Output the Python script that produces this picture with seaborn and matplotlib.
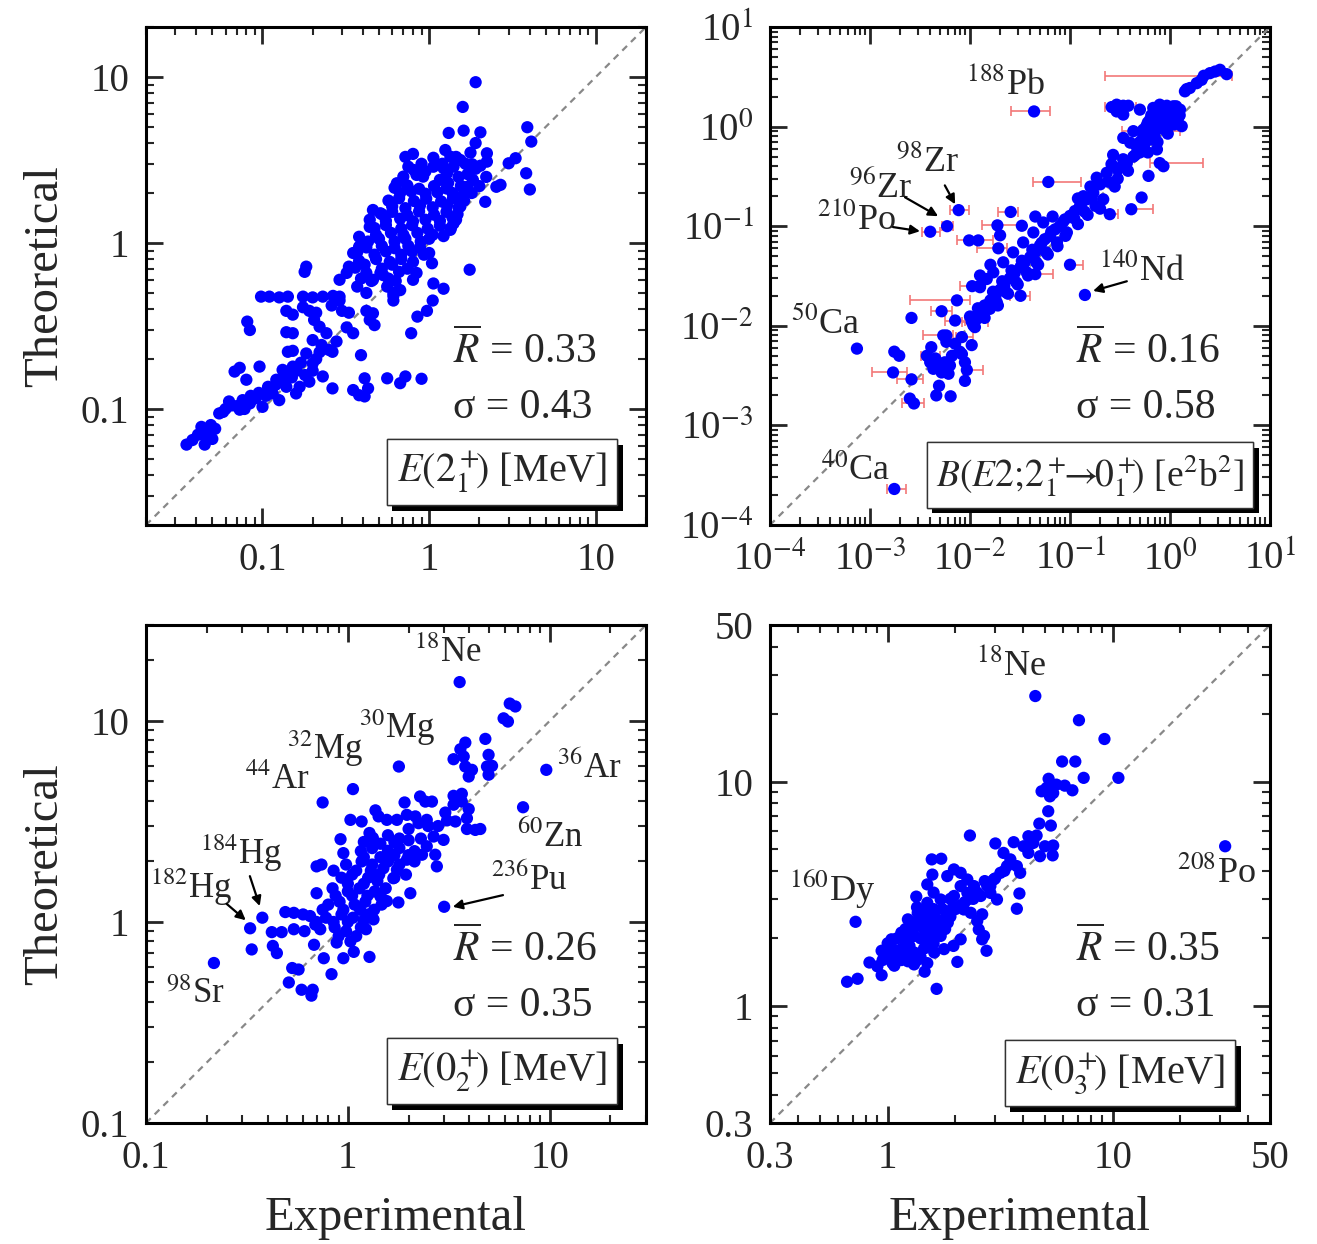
import numpy as np
import pandas as pd
import matplotlib
matplotlib.use("Agg")
import matplotlib.pyplot as plt
import matplotlib.patheffects as pe
from matplotlib.ticker import LogLocator, NullFormatter
import seaborn as sns

# ---------------- data (experimental, theoretical) ----------------
e21_pts = [
    (0.035, 0.061), (0.038, 0.065), (0.043, 0.078), (0.046, 0.068), (0.045, 0.061), (0.049, 0.080),
    (0.052, 0.076), (0.041, 0.070), (0.055, 0.094), (0.058, 0.096), (0.063, 0.111), (0.068, 0.168),
    (0.073, 0.177), (0.073, 0.099), (0.080, 0.150), (0.076, 0.113), (0.084, 0.108), (0.091, 0.116),
    (0.096, 0.180), (0.10, 0.103), (0.108, 0.136), (0.115, 0.124), (0.121, 0.150), (0.126, 0.113),
    (0.132, 0.172), (0.139, 0.136), (0.152, 0.180), (0.159, 0.124), (0.167, 0.136), (0.183, 0.216),
    (0.191, 0.146), (0.20, 0.188), (0.23, 0.157), (0.263, 0.133),
    (0.047, 0.072), (0.050, 0.066), (0.060, 0.100), (0.065, 0.105), (0.070, 0.104), (0.078, 0.100),
    (0.085, 0.120), (0.095, 0.125), (0.105, 0.120), (0.110, 0.130), (0.120, 0.140), (0.130, 0.150),
    (0.140, 0.160), (0.150, 0.155), (0.160, 0.170), (0.170, 0.190), (0.180, 0.160), (0.200, 0.170),
    (0.210, 0.200), (0.220, 0.220),
    (0.35, 0.130), (0.38, 0.121), (0.41, 0.119), (0.43, 0.133), (0.41, 0.153), (0.56, 0.153),
    (0.67, 0.143), (0.72, 0.157), (0.90, 0.152),
    (0.39, 0.211), (0.263, 0.221), (0.278, 0.255), (0.78, 0.286), (0.85, 0.36), (0.97, 0.39),
    (1.05, 0.45), (1.06, 0.57), (1.22, 0.53), (1.04, 0.755), (1.75, 0.69),
    (0.081, 0.336), (0.084, 0.299), (0.139, 0.29), (0.152, 0.286), (0.142, 0.221), (0.152, 0.224),
    (0.098, 0.475), (0.110, 0.475), (0.126, 0.47), (0.142, 0.475), (0.175, 0.475), (0.20, 0.47),
    (0.23, 0.475), (0.265, 0.48), (0.29, 0.475),
    (0.139, 0.39), (0.152, 0.37), (0.175, 0.41), (0.191, 0.39), (0.21, 0.38),
    (0.183, 0.72), (0.179, 0.67),
    (0.204, 0.344), (0.22, 0.313), (0.242, 0.286), (0.20, 0.26), (0.226, 0.243), (0.25, 0.227),
    (0.26, 0.42), (0.29, 0.45), (0.30, 0.39), (0.33, 0.38), (0.32, 0.31), (0.35, 0.286),
    (0.29, 0.60), (0.32, 0.66), (0.33, 0.72), (0.35, 0.87), (0.38, 1.09), (0.38, 0.95),
    (0.44, 1.38), (0.44, 1.25), (0.46, 1.58), (0.51, 1.51),
    (0.42, 0.39), (0.46, 0.377), (0.44, 0.344), (0.47, 0.32),
    (0.37, 0.546), (0.42, 0.50), (0.46, 0.60), (0.51, 0.66), (0.56, 0.546), (0.61, 0.50), (0.61, 0.45),
    (0.62, 2.15), (0.74, 2.22), (0.87, 2.12), (1.07, 2.20), (1.27, 2.13), (1.55, 2.21),
    (0.57, 1.80), (0.66, 1.86), (0.81, 1.79), (0.96, 1.85), (1.18, 1.78), (1.39, 1.86), (1.62, 1.80),
    (0.52, 1.49), (0.60, 1.54), (0.74, 1.47), (0.87, 1.55), (1.07, 1.48), (1.27, 1.54), (1.48, 1.49),
    (0.47, 1.23), (0.55, 1.28), (0.68, 1.22), (0.79, 1.28), (0.98, 1.22), (1.16, 1.27), (1.35, 1.23),
    (0.43, 1.02), (0.50, 1.06), (0.62, 1.02), (0.72, 1.06), (0.89, 1.02), (1.00, 1.06),
    (0.37, 0.88), (0.47, 0.85), (0.55, 0.89), (0.68, 0.85), (0.79, 0.89), (0.93, 0.85),
    (0.36, 0.71), (0.41, 0.74), (0.52, 0.70), (0.60, 0.74), (0.74, 0.70),
    (0.39, 0.61), (0.45, 0.59), (0.57, 0.61), (0.63, 0.59),
    (0.67, 2.00), (0.78, 2.05), (0.95, 1.98), (1.12, 2.02), (1.38, 2.00), (1.60, 1.95),
    (0.60, 1.66), (0.72, 1.62), (0.88, 1.68), (1.05, 1.64), (1.28, 1.68), (1.50, 1.63),
    (0.55, 1.36), (0.67, 1.40), (0.80, 1.35), (0.95, 1.38), (1.16, 1.36), (1.38, 1.42),
    (0.48, 1.12), (0.59, 1.15), (0.70, 1.12), (0.85, 1.15), (1.05, 1.12), (1.22, 1.10),
    (0.42, 0.94), (0.52, 0.96), (0.62, 0.93), (0.75, 0.96), (0.88, 0.94),
    (0.38, 0.78), (0.48, 0.80), (0.58, 0.77), (0.68, 0.80), (0.80, 0.77),
    (0.42, 0.66), (0.53, 0.64), (0.66, 0.67),
    (1.70, 2.60), (1.90, 2.80), (1.50, 2.50), (1.30, 2.30), (2.00, 2.20), (1.80, 2.00), (1.65, 3.00),
    (1.45, 3.30), (1.20, 3.00), (0.95, 2.70), (0.90, 3.00),
    (0.64, 2.29), (0.70, 2.51), (0.81, 2.75), (0.92, 2.51), (1.06, 2.88), (1.16, 2.40), (1.28, 2.63),
    (1.40, 2.88), (1.54, 3.16), (1.34, 3.31), (1.22, 2.82), (1.69, 2.18), (1.54, 1.66),
    (1.0, 0.87), (0.80, 0.60), (0.84, 0.66), (0.67, 0.52), (0.61, 0.48),
    (1.40, 1.31), (1.34, 1.20), (1.45, 1.38),
    (1.9, 9.3), (1.59, 6.6), (1.31, 4.6), (1.61, 4.75), (2.03, 4.64), (3.88, 4.98), (4.1, 4.08),
    (3.82, 2.63), (4.02, 2.1), (3.3, 3.24), (3.0, 3.02), (2.68, 2.24), (2.53, 2.18), (2.17, 1.77),
    (2.22, 3.47), (2.22, 3.09), (2.03, 2.92), (1.9, 4.0), (1.77, 3.5), (1.81, 2.98), (2.2, 2.5),
    (1.83, 2.4), (1.25, 3.63), (1.06, 3.26), (0.72, 3.3), (0.80, 3.44), (0.75, 2.88), (0.84, 2.57),
]

be2_pts = [
    (2.51, 3.44), (2.82, 3.57), (3.16, 3.72), (3.69, 3.36), (2.07, 2.95), (1.85, 2.73), (1.58, 2.44),
    (1.47, 2.38), (1.41, 2.26),
    (0.293, 1.66), (0.341, 1.62), (0.383, 1.62), (0.293, 1.42), (0.341, 1.32), (0.50, 1.48),
    (0.68, 1.54), (0.79, 1.66), (0.93, 1.62), (1.08, 1.60), (0.74, 1.27), (0.86, 1.32), (1.0, 1.27),
    (1.17, 1.37), (0.63, 1.17), (0.79, 1.09), (0.93, 1.01), (0.58, 1.01), (0.68, 0.86), (0.54, 0.93),
    (1.08, 1.13), (1.26, 1.48), (1.31, 1.01),
    (0.86, 1.54), (1.0, 1.5), (0.7, 1.4), (0.9, 1.2), (1.1, 1.25), (0.8, 1.0), (0.6, 1.1), (0.72, 0.95),
    (0.95, 1.4), (0.65, 1.3), (0.341, 0.77),
    (0.40, 0.69), (0.46, 0.64), (0.54, 0.80), (0.63, 0.74), (0.50, 0.55), (0.43, 0.50), (0.34, 0.47),
    (0.27, 0.52), (0.26, 0.42), (0.30, 0.37), (0.37, 0.43), (0.74, 0.59), (0.86, 0.40), (0.61, 0.32),
    (0.52, 0.194), (0.215, 0.186), (0.20, 0.263), (0.171, 0.217), (0.147, 0.186), (0.126, 0.16),
    (0.112, 0.142), (0.10, 0.127), (0.089, 0.117),
    (0.079, 0.10), (0.071, 0.093), (0.063, 0.080), (0.056, 0.074), (0.050, 0.064), (0.045, 0.055),
    (0.040, 0.049), (0.035, 0.043), (0.032, 0.039), (0.028, 0.034), (0.025, 0.030), (0.022, 0.025),
    (0.020, 0.023), (0.018, 0.020), (0.016, 0.018), (0.014, 0.016), (0.0126, 0.0137), (0.0117, 0.0117),
    (0.0108, 0.0101),
    (0.054, 0.109), (0.043, 0.0865), (0.034, 0.0687), (0.027, 0.0546), (0.0215, 0.0434), (0.0171, 0.0344),
    (0.0147, 0.0295), (0.0126, 0.0253),
    (0.093, 0.0865), (0.074, 0.0687), (0.058, 0.0546), (0.046, 0.0434), (0.037, 0.0344), (0.029, 0.0273),
    (0.023, 0.0217), (0.0185, 0.0173), (0.0158, 0.0148),
    (0.012, 0.015), (0.014, 0.012), (0.017, 0.022), (0.019, 0.016), (0.021, 0.028), (0.024, 0.021),
    (0.026, 0.036), (0.030, 0.026), (0.033, 0.045), (0.038, 0.032), (0.042, 0.058), (0.048, 0.041),
    (0.052, 0.068), (0.060, 0.052), (0.065, 0.088), (0.075, 0.063), (0.085, 0.11), (0.090, 0.080),
    (0.11, 0.12), (0.12, 0.105), (0.13, 0.17), (0.14, 0.14), (0.165, 0.19), (0.18, 0.16), (0.24, 0.28),
    (0.28, 0.25), (0.33, 0.40), (0.38, 0.36), (0.45, 0.52), (0.55, 0.65), (0.60, 0.55), (0.70, 0.80),
    (0.75, 0.70), (0.85, 0.95), (0.95, 0.85), (1.10, 1.05), (1.20, 1.20), (1.05, 1.40), (0.90, 1.55),
    (1.15, 1.60), (0.60, 0.90), (0.50, 0.70), (0.75, 1.20), (0.82, 1.45), (1.25, 1.30), (0.68, 1.05),
    (0.185, 0.307), (0.233, 0.344), (0.136, 0.20), (0.16, 0.25), (0.12, 0.19), (0.3, 0.3), (0.2, 0.15),
    (0.15, 0.13),
    (0.045, 0.125), (0.067, 0.125), (0.033, 0.101), (0.020, 0.081), (0.0121, 0.072), (0.141, 0.0204),
    (0.016, 0.041), (0.0126, 0.032), (0.0126, 0.0244), (0.0026, 0.012), (0.010, 0.0124), (0.0112, 0.0097),
    (0.00074, 0.0059), (0.00175, 0.0055), (0.00196, 0.0050), (0.0025, 0.00186), (0.0046, 0.0020),
    (0.0049, 0.0025), (0.0064, 0.00196),
    (0.0041, 0.0061), (0.0045, 0.0047), (0.0050, 0.0039), (0.0056, 0.0043), (0.0063, 0.0040),
    (0.0061, 0.0033), (0.0052, 0.0034), (0.0040, 0.0043), (0.0043, 0.0037), (0.0054, 0.0080),
    (0.0058, 0.0069), (0.0066, 0.0050), (0.0079, 0.0055), (0.0089, 0.0043), (0.0089, 0.0028),
    (0.0104, 0.0064), (0.0071, 0.0066), (0.0083, 0.0052),
]

# points with horizontal error bars: (exp, theo, exp_low, exp_high)
be2_err = [
    (2.18, 3.24, 0.224, 4.14), (0.0437, 1.42, 0.0255, 0.063), (0.0607, 0.278, 0.043, 0.128),
    (0.261, 1.57, 0.224, 0.46), (0.0077, 0.145, 0.0063, 0.0098), (0.0059, 0.10, 0.0052, 0.0068),
    (0.0040, 0.088, 0.0033, 0.0050), (0.0255, 0.139, 0.0192, 0.0304), (0.0188, 0.102, 0.0131, 0.0329),
    (0.0098, 0.072, 0.0074, 0.0171), (0.0192, 0.060, 0.0117, 0.0232), (0.0074, 0.018, 0.0025, 0.010),
    (0.0052, 0.014, 0.0041, 0.0066), (0.0071, 0.0113, 0.0056, 0.0089), (0.0017, 0.0034, 0.00104, 0.00233),
    (0.0026, 0.0029, 0.00188, 0.0034), (0.00275, 0.00166, 0.0021, 0.0035), (0.00175, 0.00023, 0.00147, 0.00229),
    (0.41, 0.148, 0.38, 0.68), (0.79, 0.43, 0.63, 2.15), (0.1, 0.041, 0.093, 0.136),
    (0.43, 0.90, 0.33, 1.26), (0.25, 0.132, 0.23, 0.30), (0.0104, 0.0110, 0.0083, 0.0153),
    (0.0058, 0.0080, 0.0034, 0.0068), (0.0083, 0.0077, 0.0073, 0.0107), (0.0037, 0.0050, 0.0032, 0.0050),
    (0.0093, 0.0036, 0.0086, 0.0136), (0.045, 0.033, 0.040, 0.068), (0.032, 0.020, 0.025, 0.040),
    (0.0105, 0.025, 0.0079, 0.0117),
]

e02_pts = [
    (3.58, 15.6), (6.34, 12.2), (6.76, 11.8), (5.91, 10.3), (6.21, 9.93), (4.8, 8.14), (3.82, 7.8),
    (3.61, 7.23), (3.34, 6.45), (3.75, 6.65), (3.82, 5.93), (4.12, 5.71), (3.97, 5.29), (4.98, 6.78),
    (5.18, 5.98), (4.98, 5.40), (4.89, 5.93), (9.62, 5.71), (7.38, 3.72), (1.79, 5.93), (1.06, 4.58),
    (0.75, 3.93), (3.0, 1.19), (0.377, 1.05), (0.328, 0.93), (0.334, 0.73), (0.217, 0.625),
    (0.42, 0.89), (0.47, 0.89), (0.425, 0.76), (0.445, 0.70),
    (0.53, 0.59), (0.57, 0.58), (0.51, 0.50), (0.59, 0.46), (0.67, 0.46), (0.66, 0.43), (0.83, 0.55),
    (0.76, 0.66), (0.95, 0.66), (1.07, 0.71), (1.28, 0.67), (1.23, 0.92), (0.68, 0.77),
    (0.49, 1.12), (0.54, 1.11), (0.60, 1.09), (0.65, 1.07), (0.54, 0.92), (0.61, 0.90), (0.69, 0.97),
    (0.73, 0.92),
    (0.70, 1.89), (0.74, 1.93), (0.70, 1.39), (0.92, 2.58), (1.03, 3.22), (1.17, 3.16), (1.28, 2.77),
    (1.37, 3.59), (1.42, 3.35), (1.56, 3.22), (1.75, 3.22), (1.91, 3.93), (1.96, 3.41), (2.16, 3.35),
    (2.28, 4.21), (2.42, 3.97), (2.61, 3.97), (2.46, 3.22), (2.24, 3.10),
    (3.04, 3.5), (3.34, 4.24), (3.67, 4.34), (3.34, 3.83), (3.67, 3.97), (3.97, 3.64), (3.89, 3.28),
    (3.89, 2.90), (4.28, 2.87), (4.53, 2.90), (3.41, 3.16), (2.98, 2.56), (2.71, 2.16), (2.76, 1.89),
    (2.04, 1.39), (1.78, 1.25), (1.56, 1.27), (1.34, 1.03), (1.45, 1.34), (1.68, 1.65), (1.96, 2.04),
    (2.33, 2.16), (2.46, 2.38), (2.66, 2.66),
    (1.33, 2.62), (1.58, 2.70), (1.80, 2.60),
    (1.16, 2.25), (1.32, 2.33), (1.58, 2.26), (1.80, 2.33), (2.14, 2.25),
    (0.98, 1.93), (1.17, 2.00), (1.32, 1.93), (1.58, 2.00), (1.80, 1.93), (2.14, 2.00),
    (0.93, 1.66), (1.05, 1.72), (1.26, 1.66), (1.43, 1.72), (1.70, 1.66), (1.94, 1.72),
    (0.84, 1.47), (1.00, 1.42), (1.14, 1.47), (1.36, 1.42), (1.54, 1.47),
    (0.80, 1.22), (0.91, 1.26), (1.08, 1.22), (1.22, 1.26), (1.47, 1.22),
    (0.78, 1.05), (0.93, 1.09), (1.06, 1.05), (1.26, 1.09),
    (0.86, 0.94), (0.98, 0.90), (1.16, 0.94),
    (0.88, 0.79), (1.03, 0.80),
    (0.87, 1.35), (1.05, 1.35), (1.25, 1.35), (1.45, 1.38), (0.95, 1.15), (1.15, 1.15), (1.35, 1.15),
    (0.85, 1.00), (1.00, 1.00), (1.20, 1.02), (1.10, 1.80), (1.30, 1.80), (1.50, 1.85), (1.75, 1.82),
    (1.20, 2.10), (1.45, 2.10), (1.70, 2.15), (2.00, 2.15), (1.45, 2.45), (1.70, 2.50), (2.00, 2.55),
    (1.00, 1.55), (1.20, 1.55), (1.40, 1.60), (0.70, 1.00), (0.75, 1.15), (0.90, 0.85), (1.10, 0.85),
    (2.30, 2.60), (2.50, 3.00), (2.80, 3.00), (3.10, 3.20), (2.00, 2.90), (1.20, 2.50), (0.85, 1.80),
    (0.95, 2.20),
]

e03_pts = [
    (4.53, 24.1), (7.08, 18.8), (9.19, 15.5), (5.96, 12.3), (6.82, 12.3), (7.43, 10.4), (10.6, 10.4),
    (5.19, 10.3), (4.83, 9.06), (5.08, 9.37), (5.26, 8.6), (5.62, 9.7), (6.12, 9.6), (6.62, 9.15),
    (5.44, 8.9), (5.17, 7.38), (4.72, 6.5), (5.31, 6.37), (2.32, 5.75), (5.44, 5.19), (4.75, 4.65),
    (5.41, 4.69),
    (4.22, 5.71), (4.59, 5.75), (5.0, 5.15), (3.63, 5.37), (4.02, 5.15), (4.44, 5.33), (4.22, 4.81),
    (3.01, 5.3), (3.27, 4.81), (3.51, 4.5), (3.75, 4.2), (3.88, 3.92), (3.39, 4.2), (3.17, 3.92),
    (2.96, 3.66), (2.77, 3.42), (2.86, 3.19), (2.59, 3.09), (2.42, 3.42), (2.26, 3.66), (2.11, 3.92),
    (1.97, 4.06), (1.84, 3.79),
    (1.57, 4.5), (1.73, 4.53), (1.58, 3.85), (1.34, 3.07), (1.5, 3.48),
    (3.75, 2.71), (3.85, 3.17), (3.06, 2.98), (2.86, 3.42), (2.63, 1.98), (2.68, 2.05), (2.75, 1.76),
    (2.54, 2.19), (2.5, 2.39), (2.63, 2.56),
    (0.72, 2.37),
    (0.66, 1.28), (0.735, 1.32), (0.83, 1.56), (0.94, 1.37), (0.94, 1.76), (1.07, 1.51), (1.13, 1.67),
    (1.23, 1.58), (1.31, 1.53), (1.46, 1.42), (1.65, 1.19), (2.04, 1.57), (2.11, 1.98), (1.96, 1.85),
    (1.15, 2.12), (1.31, 2.05), (1.5, 1.98), (1.72, 2.05), (1.41, 2.27), (1.23, 2.43), (1.36, 2.6),
    (1.61, 2.6), (1.84, 2.6), (1.5, 2.88), (1.72, 2.98), (1.97, 3.09), (2.11, 3.42), (2.26, 3.19),
    (1.5, 2.43), (1.31, 1.73), (1.61, 1.73), (1.78, 1.79), (1.15, 1.79), (1.04, 1.98), (2.34, 2.6),
    (2.18, 2.69),
    (1.2, 1.9), (1.4, 2.0), (1.45, 1.8), (1.6, 2.2), (1.7, 2.4), (1.9, 2.5), (1.3, 2.2), (1.1, 1.65),
    (1.25, 1.85), (1.55, 2.35), (1.8, 2.2), (2.0, 2.7), (2.2, 2.9), (1.35, 1.6), (1.05, 1.55),
    (1.0, 1.7), (0.95, 1.6), (1.9, 3.0), (2.4, 3.0), (1.6, 2.7),
    (1.0, 1.9), (1.1, 2.0), (1.2, 2.2), (1.3, 2.35), (1.45, 2.2), (1.55, 2.05), (1.15, 1.6), (1.25, 1.7),
    (1.4, 1.65), (1.5, 1.55), (1.6, 1.9), (1.7, 2.3), (1.85, 2.35), (1.95, 2.75), (2.1, 2.8), (1.35, 2.75),
    (1.45, 2.65), (1.25, 2.05), (0.9, 1.5), (1.05, 1.8), (1.6, 3.2), (2.3, 3.0), (2.5, 3.2), (2.7, 3.6),
    (3.0, 3.7), (3.3, 4.0), (1.75, 2.7), (1.4, 2.4),
    (31.6, 5.15),
]

stats = {"e21": ("0.33", "0.43"), "be2": ("0.16", "0.58"), "e02": ("0.26", "0.35"), "e03": ("0.35", "0.31")}

# nuclide labels: (text, exp, theo)
be2_labels = [(r"$^{188}$Pb", 0.0224, 2.63), (r"$^{98}$Zr", 0.0038, 0.43), (r"$^{96}$Zr", 0.00128, 0.245),
              (r"$^{210}$Po", 0.00074, 0.117), (r"$^{140}$Nd", 0.52, 0.0355), (r"$^{50}$Ca", 0.000355, 0.0102),
              (r"$^{40}$Ca", 0.00071, 0.00035)]
be2_arrows = [((0.0056, 0.257), (0.0071, 0.166)), ((0.00224, 0.195), (0.0048, 0.126)),
              ((0.0017, 0.098), (0.00316, 0.089)), ((0.37, 0.028), (0.17, 0.0224))]
e02_labels = [(r"$^{18}$Ne", 3.13, 21.6), (r"$^{30}$Mg", 1.75, 9.3), (r"$^{32}$Mg", 0.77, 7.3),
              (r"$^{44}$Ar", 0.45, 5.1), (r"$^{36}$Ar", 15.7, 5.8), (r"$^{60}$Zn", 10.1, 2.61),
              (r"$^{236}$Pu", 7.9, 1.61), (r"$^{184}$Hg", 0.295, 2.2), (r"$^{182}$Hg", 0.167, 1.49),
              (r"$^{98}$Sr", 0.176, 0.435)]
e02_arrows = [((5.87, 1.36), (3.31, 1.19)), ((0.327, 1.69), (0.366, 1.2)), ((0.251, 1.23), (0.312, 1.02))]
e03_labels = [(r"$^{18}$Ne", 3.52, 33.0), (r"$^{160}$Dy", 0.567, 3.33), (r"$^{208}$Po", 29.0, 3.88)]

# ---------------- style ----------------
sns.set_style("ticks")
plt.rcParams["font.family"] = ["Liberation Serif", "DejaVu Serif"]
plt.rcParams["mathtext.fontset"] = "stix"

fig = plt.figure(figsize=(13.17, 12.44), dpi=100)
W, H = 500 / 1317, 498 / 1244
ax1 = fig.add_axes([146 / 1317, 1 - 525 / 1244, W, H])
ax2 = fig.add_axes([770 / 1317, 1 - 525 / 1244, W, H])
ax3 = fig.add_axes([146 / 1317, 1 - 1123 / 1244, W, H])
ax4 = fig.add_axes([770 / 1317, 1 - 1123 / 1244, W, H])

BLUE = "#0000ff"


def scatter(ax, pts):
    df = pd.DataFrame(pts, columns=["exp", "theo"])
    sns.scatterplot(data=df, x="exp", y="theo", ax=ax, color=BLUE, s=78, edgecolor="none",
                    linewidth=0, zorder=3, legend=False)


def setup(ax, lim, ticks, labels, stat, box, boxsize=29):
    ax.set_xscale("log")
    ax.set_yscale("log")
    ax.set_xlim(lim)
    ax.set_ylim(lim)
    ax.set_xticks(ticks)
    ax.set_xticklabels(labels)
    ax.set_yticks(ticks)
    ax.set_yticklabels(labels)
    for axis in (ax.xaxis, ax.yaxis):
        axis.set_minor_locator(LogLocator(base=10, subs=np.arange(2, 10), numticks=50))
        axis.set_minor_formatter(NullFormatter())
    ax.tick_params(which="major", direction="in", length=12, width=2, top=True, right=True,
                   labelsize=28, pad=12)
    ax.tick_params(which="minor", direction="in", length=6, width=1.5, top=True, right=True)
    for s in ax.spines.values():
        s.set_linewidth(2.2)
        s.set_color("black")
    ax.set_xlabel("")
    ax.set_ylabel("")
    ax.axline((1, 1), (10, 10), color="#888888", ls=(0, (3, 2.5)), lw=1.6, zorder=1)
    ax.text(0.613, 0.351, r"$\overline{R}$ = " + stat[0], transform=ax.transAxes, fontsize=30,
            ha="left", va="center")
    ax.text(0.613, 0.235, "σ = " + stat[1], transform=ax.transAxes, fontsize=30, ha="left", va="center")
    t = ax.text(box[1], box[2], box[0], transform=ax.transAxes, fontsize=boxsize, ha="right", va="center",
                zorder=5, bbox=dict(boxstyle="square,pad=0.25", fc="white", ec="#333333", lw=1.0))
    t.get_bbox_patch().set_path_effects([
        pe.withSimplePatchShadow(offset=(4, -4), shadow_rgbFace="black", alpha=1.0), pe.Normal()])


def labels_arrows(ax, labs, arrows, size=26):
    for txt, x, y in labs:
        ax.text(x, y, txt, fontsize=size, ha="center", va="center", zorder=4)
    for tail, head in arrows:
        ax.annotate("", xy=head, xytext=tail,
                    arrowprops=dict(arrowstyle="-|>", color="black", lw=1.6, mutation_scale=14,
                                    shrinkA=0, shrinkB=0), zorder=4)


# panel 1
scatter(ax1, e21_pts)
setup(ax1, (0.02, 20), [0.1, 1, 10], ["0.1", "1", "10"], stats["e21"],
      (r"$E(2_1^+\!\!)$ [MeV]", 0.922, 0.106))

# panel 2
err = pd.DataFrame(be2_err, columns=["exp", "theo", "lo", "hi"])
ax2.errorbar(err["exp"], err["theo"], xerr=[err["exp"] - err["lo"], err["hi"] - err["exp"]],
             fmt="none", ecolor="#f27878", elinewidth=1.2, capsize=3.5, capthick=1.2, zorder=2)
scatter(ax2, be2_pts + [(r[0], r[1]) for r in be2_err])
setup(ax2, (1e-4, 10), [1e-4, 1e-3, 1e-2, 1e-1, 1, 10],
      [r"10$^{-4}$", r"10$^{-3}$", r"10$^{-2}$", r"10$^{-1}$", r"10$^{0}$", r"10$^{1}$"], stats["be2"],
      (r"$B(\mathit{E2};\!2_1^+\!\!\!\rightarrow\!\!0_1^+\!\!)$ [e$^2$b$^2$]", 0.948, 0.10), boxsize=27)
labels_arrows(ax2, be2_labels, be2_arrows)

# panel 3
scatter(ax3, e02_pts)
setup(ax3, (0.1, 30), [0.1, 1, 10], ["0.1", "1", "10"], stats["e02"],
      (r"$E(0_2^+\!\!)$ [MeV]", 0.922, 0.104))
labels_arrows(ax3, e02_labels, e02_arrows, size=25)

# panel 4
scatter(ax4, e03_pts)
setup(ax4, (0.3, 50), [0.3, 1, 10, 50], ["0.3", "1", "10", "50"], stats["e03"],
      (r"$E(0_3^+\!\!)$ [MeV]", 0.91, 0.10))
labels_arrows(ax4, e03_labels, [])

# axis titles
for yc in (1 - 276 / 1244, 1 - 874 / 1244):
    fig.text(45 / 1317, yc, "Theoretical", rotation=90, fontsize=35, ha="center", va="center")
for xc in (396 / 1317, 1020 / 1317):
    fig.text(xc, 1 - 1218 / 1244, "Experimental", fontsize=35, ha="center", va="center")

fig.savefig("out.png", dpi=100, facecolor="white")
